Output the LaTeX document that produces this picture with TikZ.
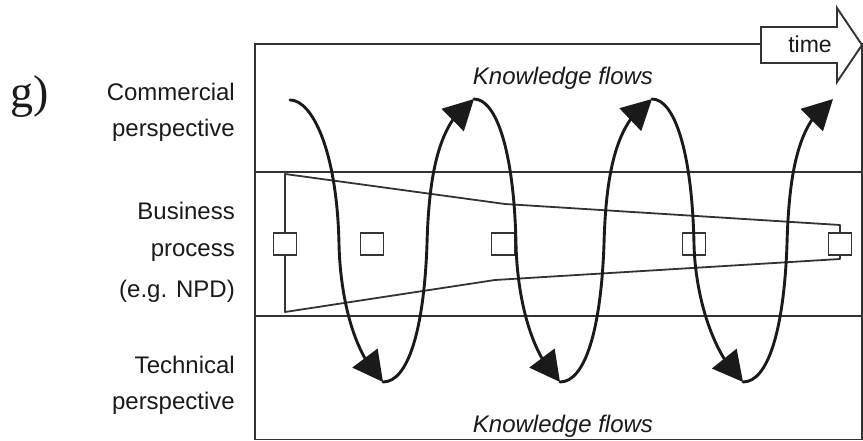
\documentclass[tikz,border=0pt]{standalone}
\usepackage{fontspec}
\setmainfont{Liberation Sans}
\newfontfamily\labelserif{Liberation Serif}
\usetikzlibrary{arrows.meta,bending}
\definecolor{ink}{HTML}{1A1A1A}
\definecolor{rule}{HTML}{333333}

\begin{document}
\begin{tikzpicture}[x=1pt,y=-1pt,
  frameline/.style={draw=rule,line width=1.9pt},
  funnel/.style={draw=rule,line width=1.8pt,line join=round},
  stagebox/.style={draw=rule,fill=white,line width=1.7pt,minimum width=23pt,minimum height=22pt,inner sep=0pt},
  flow/.style={draw=ink,line width=2.9pt,line cap=round,-{Triangle[length=30pt,width=31pt]}},
  lbl/.style={font=\fontsize{24}{28}\selectfont,text=ink,anchor=base east,inner sep=0pt},
  kf/.style={font=\fontsize{24}{28}\selectfont\itshape,text=ink,anchor=base,inner sep=0pt}
]
\useasboundingbox (0,0) rectangle (863,441);

% outer frame and the three bands
\draw[frameline] (255,44) rectangle (862,439.5);
\draw[frameline] (255,172) -- (862,172);
\draw[frameline] (255,316) -- (862,316);

% time arrow
\draw[frameline,fill=white,line join=miter]
  (761,27) -- (837,27) -- (837,8) -- (862,45) -- (837,82) -- (837,63) -- (761,63) -- cycle;
\node[font=\fontsize{23}{27}\selectfont,text=ink,anchor=base,inner sep=0pt] (time) at (810,53) {time};

% narrowing process funnel
\draw[funnel] (285,174) -- (505,204) -- (840,225) -- (840,259) -- (495,280) -- (285,312) -- cycle;

% process stages
\node[stagebox] (s1) at (285,244) {};
\node[stagebox] (s2) at (372,244) {};
\node[stagebox] (s3) at (503,244) {};
\node[stagebox] (s4) at (694,244) {};
\node[stagebox] (s5) at (840,244) {};

% turning points of the knowledge spiral
\coordinate (k0) at (290,100);
\coordinate (b1) at (383,382);
\coordinate (t1) at (474,99);
\coordinate (b2) at (560,382);
\coordinate (t2) at (652,99);
\coordinate (b3) at (743,382);
\coordinate (t3) at (833,99);

\draw[flow] (k0) .. controls (312,100) and (337,150) .. (339,244) .. controls (340,290) and (351,352) .. (b1);
\draw[flow] (b1) .. controls (408,382) and (424,330) .. (427,244) .. controls (429,170) and (440,120) .. (t1);
\draw[flow] (t1) .. controls (496,99) and (514,150) .. (516,244) .. controls (517,290) and (528,352) .. (b2);
\draw[flow] (b2) .. controls (585,382) and (601,330) .. (604,244) .. controls (606,170) and (617,120) .. (t2);
\draw[flow] (t2) .. controls (674,99) and (692,150) .. (694,244) .. controls (695,290) and (710,352) .. (b3);
\draw[flow] (b3) .. controls (768,382) and (784,330) .. (787,244) .. controls (789,170) and (799,120) .. (t3);

% labels
\node[font=\labelserif\fontsize{46}{50}\selectfont,text=ink,anchor=base west,inner sep=0pt] (g) at (10,108) {g)};
\node[lbl] (com1) at (235,101) {Commercial};
\node[lbl] (com2) at (235,137) {perspective};
\node[lbl] (bp1) at (235,220) {Business};
\node[lbl] (bp2) at (235,257) {process};
\node[lbl] (bp3) at (235,297) {(e.g. NPD)};
\node[lbl] (te1) at (235,373) {Technical};
\node[lbl] (te2) at (235,409) {perspective};
\node[kf] (kft) at (563,85) {Knowledge flows};
\node[kf] (kfb) at (563,432) {Knowledge flows};
\end{tikzpicture}
\end{document}
